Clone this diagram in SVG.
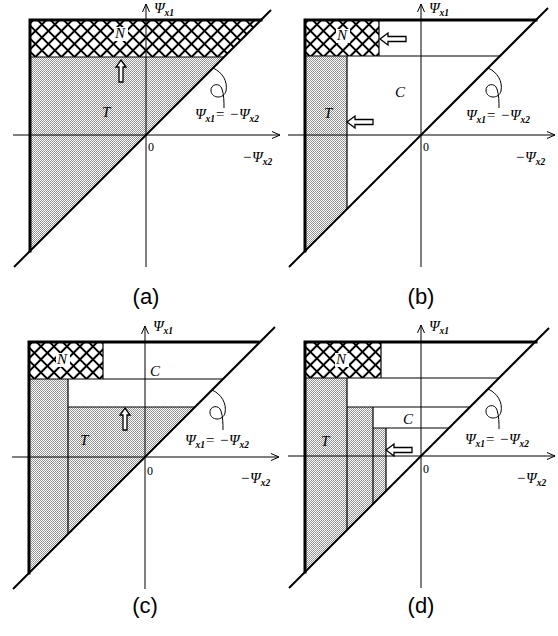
<svg xmlns="http://www.w3.org/2000/svg" xmlns:xlink="http://www.w3.org/1999/xlink" width="558" height="636" viewBox="0 0 558 636">
<style>
.lbl{font-family:"Liberation Serif","Times New Roman",serif;font-style:italic;font-size:15px;fill:#000}
.sub{font-size:9.5px;font-weight:bold}
.cap{font-family:"Liberation Sans",Arial,sans-serif;font-size:22px;text-anchor:middle;fill:#000}
.axis{stroke:#000;stroke-width:1;fill:none}
.diag{stroke:#000;stroke-width:2;fill:none}
.thick{stroke:#000;stroke-width:3;fill:none;stroke-linecap:square}
.thin{stroke:#000;stroke-width:1.2;fill:none}
.harrow{fill:#fff;stroke:#000;stroke-width:1.3;stroke-linejoin:miter}
.curl{fill:none;stroke:#000;stroke-width:1}
</style>
<defs>
<pattern id="dots" patternUnits="userSpaceOnUse" width="2" height="2">
<rect x="0" y="0" width="2" height="2" fill="#fff"/>
<rect x="0" y="0" width="1" height="1" fill="#8a8a8a"/>
<rect x="1" y="1" width="1" height="1" fill="#9a9a9a"/>
</pattern>
<pattern id="hatch" patternUnits="userSpaceOnUse" width="9.2" height="9.2" patternTransform="rotate(45)">
<rect x="0" y="0" width="9.2" height="9.2" fill="#fff"/>
<path d="M0,4.6 H9.2 M4.6,0 V9.2" stroke="#000" stroke-width="2"/>
</pattern>
<marker id="ax" viewBox="-10 -5 12 10" refX="0" refY="0" markerWidth="12" markerHeight="10" markerUnits="userSpaceOnUse" orient="auto">
<path d="M-8,-3.5 L0,0 L-8,3.5" fill="none" stroke="#000" stroke-width="1"/>
</marker>
<path id="upA" class="harrow" d="M0,0 L5,7 L2,7 L2,22 L-2,22 L-2,7 L-5,7 Z"/>
<path id="leftA" class="harrow" d="M0,0 L8,-6 L8,-2.5 L26,-2.5 L26,2.5 L8,2.5 L8,6 Z"/>
</defs>
<rect width="558" height="636" fill="#fff"/>

<!-- Panel (a) -->
<g id="panel-a" transform="translate(146,135)">
<polygon points="-116,-78 78,-78 -116,116" fill="url(#dots)"/>
<polygon points="-116,-115 115,-115 78,-78 -116,-78" fill="url(#hatch)"/>
<line class="thin" x1="-116" y1="-78" x2="78" y2="-78"/>
<g id="axes-a">
<line class="axis" x1="-133" y1="0" x2="134" y2="0" marker-end="url(#ax)"/>
<line class="axis" x1="0" y1="132" x2="0" y2="-131" marker-end="url(#ax)"/>
</g>
<line class="diag" x1="-132" y1="132" x2="125" y2="-125"/>
<path class="thick" d="M-116,116 V-115 H115"/>
<rect x="-32" y="-108" width="14" height="14" fill="#fff"/>
<text class="lbl" x="-31" y="-97">N</text>
<use xlink:href="#upA" x="-25" y="-75"/>
<text class="lbl" x="-44" y="-18">T</text>
<path class="curl" d="M67,-67 C76,-63 82,-54 80,-44 C78,-36 66,-36 65,-44 C64,-51 74,-53 76,-46 C78,-40 78,-33 78,-27"/>
<text class="lbl" x="49" y="-16">Ψ<tspan class="sub" dy="3">x1</tspan><tspan dy="-3">= −Ψ</tspan><tspan class="sub" dy="3">x2</tspan></text>
<text class="lbl" x="8" y="-122">Ψ<tspan class="sub" dy="3">x1</tspan></text>
<text class="lbl" style="font-style:normal;font-size:12px" x="2" y="16">0</text>
<text class="lbl" x="96" y="27">−Ψ<tspan class="sub" dy="3">x2</tspan></text>
<text class="cap" x="0" y="169">(a)</text>
</g>

<!-- Panel (b) -->
<g id="panel-b" transform="translate(421,135)">
<polygon points="-116,-79 -74,-79 -74,74 -116,116" fill="url(#dots)"/>
<rect x="-116" y="-115" width="74" height="36" fill="url(#hatch)"/>
<path class="thin" d="M-116,-79 H79 M-42,-115 V-79 M-74,-79 V74"/>
<g id="axes-b">
<line class="axis" x1="-133" y1="0" x2="134" y2="0" marker-end="url(#ax)"/>
<line class="axis" x1="0" y1="132" x2="0" y2="-131" marker-end="url(#ax)"/>
</g>
<line class="diag" x1="-132" y1="132" x2="127" y2="-127"/>
<path class="thick" d="M-116,116 V-115 H115"/>
<rect x="-85" y="-106" width="14" height="14" fill="#fff"/>
<text class="lbl" x="-84" y="-95">N</text>
<use xlink:href="#leftA" x="-41" y="-96"/>
<use xlink:href="#leftA" x="-74" y="-13"/>
<text class="lbl" x="-26" y="-38">C</text>
<text class="lbl" x="-97" y="-17">T</text>
<path class="curl" d="M67,-67 C76,-63 82,-54 80,-44 C78,-36 66,-36 65,-44 C64,-51 74,-53 76,-46 C78,-40 78,-33 78,-27"/>
<text class="lbl" x="45" y="-15">Ψ<tspan class="sub" dy="3">x1</tspan><tspan dy="-3">= −Ψ</tspan><tspan class="sub" dy="3">x2</tspan></text>
<text class="lbl" x="8" y="-122">Ψ<tspan class="sub" dy="3">x1</tspan></text>
<text class="lbl" style="font-style:normal;font-size:12px" x="2" y="16">0</text>
<text class="lbl" x="94" y="27">−Ψ<tspan class="sub" dy="3">x2</tspan></text>
<text class="cap" x="0" y="169">(b)</text>
</g>

<!-- Panel (c) -->
<g id="panel-c" transform="translate(145,457)">
<polygon points="-116,-78 -77,-78 -77,-50 50,-50 -116,116" fill="url(#dots)"/>
<rect x="-116" y="-115" width="74" height="37" fill="url(#hatch)"/>
<path class="thin" d="M-116,-78 H78 M-42,-115 V-78 M-77,-78 V77 M-77,-50 H50"/>
<g id="axes-c">
<line class="axis" x1="-133" y1="0" x2="134" y2="0" marker-end="url(#ax)"/>
<line class="axis" x1="0" y1="132" x2="0" y2="-131" marker-end="url(#ax)"/>
</g>
<line class="diag" x1="-132" y1="132" x2="130" y2="-130"/>
<path class="thick" d="M-116,116 V-115 H113"/>
<rect x="-89" y="-104" width="14" height="14" fill="#fff"/>
<text class="lbl" x="-88" y="-93">N</text>
<text class="lbl" x="5" y="-81">C</text>
<use xlink:href="#upA" x="-20" y="-49"/>
<text class="lbl" x="-65" y="-12">T</text>
<path class="curl" d="M67,-67 C76,-63 82,-54 80,-44 C78,-36 66,-36 65,-44 C64,-51 74,-53 76,-46 C78,-40 78,-33 78,-27"/>
<text class="lbl" x="40" y="-12">Ψ<tspan class="sub" dy="3">x1</tspan><tspan dy="-3">= −Ψ</tspan><tspan class="sub" dy="3">x2</tspan></text>
<text class="lbl" x="8" y="-126">Ψ<tspan class="sub" dy="3">x1</tspan></text>
<text class="lbl" style="font-style:normal;font-size:12px" x="2" y="18">0</text>
<text class="lbl" x="95" y="26">−Ψ<tspan class="sub" dy="3">x2</tspan></text>
<text class="cap" x="0" y="156">(c)</text>
</g>

<!-- Panel (d) -->
<g id="panel-d" transform="translate(421,456)">
<polygon points="-116,-78 -74,-78 -74,-49 -48,-49 -48,-28 -35,-28 -35,35 -116,116" fill="url(#dots)"/>
<rect x="-116" y="-114" width="76" height="36" fill="url(#hatch)"/>
<path class="thin" d="M-116,-78 H78 M-40,-114 V-78 M-74,-78 V74 M-74,-49 H49 M-48,-49 V48 M-48,-28 H28 M-35,-28 V35"/>
<g id="axes-d">
<line class="axis" x1="-133" y1="0" x2="134" y2="0" marker-end="url(#ax)"/>
<line class="axis" x1="0" y1="132" x2="0" y2="-131" marker-end="url(#ax)"/>
</g>
<line class="diag" x1="-132" y1="132" x2="128" y2="-128"/>
<path class="thick" d="M-116,116 V-114 H115"/>
<rect x="-86" y="-103" width="14" height="14" fill="#fff"/>
<text class="lbl" x="-85" y="-92">N</text>
<text class="lbl" x="-18" y="-32">C</text>
<use xlink:href="#leftA" x="-35" y="-6"/>
<text class="lbl" x="-100" y="-10">T</text>
<path class="curl" d="M67,-67 C76,-63 82,-54 80,-44 C78,-36 66,-36 65,-44 C64,-51 74,-53 76,-46 C78,-40 78,-33 78,-27"/>
<text class="lbl" x="44" y="-12">Ψ<tspan class="sub" dy="3">x1</tspan><tspan dy="-3">= −Ψ</tspan><tspan class="sub" dy="3">x2</tspan></text>
<text class="lbl" x="8" y="-125">Ψ<tspan class="sub" dy="3">x1</tspan></text>
<text class="lbl" style="font-style:normal;font-size:12px" x="2" y="17">0</text>
<text class="lbl" x="95" y="27">−Ψ<tspan class="sub" dy="3">x2</tspan></text>
<text class="cap" x="0" y="157">(d)</text>
</g>
</svg>
